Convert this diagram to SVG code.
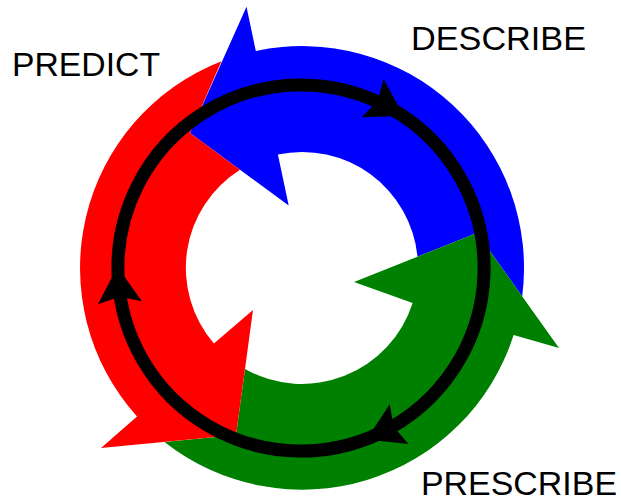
<svg xmlns="http://www.w3.org/2000/svg" width="621" height="501" viewBox="0 0 621 501">
  <style>
    .label { font-family: "Liberation Sans", Arial, sans-serif; font-size: 33px; fill: #000000; }
    .blue { fill: #0000ff; }
    .green { fill: #008000; }
    .red { fill: #ff0000; }
    .cycle { fill: none; stroke: #000000; stroke-width: 13; marker-end: url(#ah); }
  </style>
  <defs>
    <marker id="ah" markerUnits="userSpaceOnUse" markerWidth="40" markerHeight="50" refX="0" refY="0" orient="auto" overflow="visible" style="overflow:visible">
      <path d="M14,0 L-22,-22 L-16,0 L-22,22 Z" fill="#000000"/>
    </marker>
  </defs>
  <rect width="621" height="501" fill="#ffffff"/>

  <g id="arrow-describe">
    <path class="blue" d="M417.5,256.7 L477,233 L522.2,296.4 A222,222 0 0 0 255.8,50.9 L246.5,6.8 L190,133 L288.7,205.4 L277.9,154.5 A116,116 0 0 1 417.5,256.7 Z"/>
  </g>
  <g id="arrow-prescribe">
    <path class="green" d="M245,369 L236,435 L164.5,441.9 A222,222 0 0 0 513.6,335.1 L559,348 L477,233 L354,282 L412.6,302.9 A116,116 0 0 1 245,369 Z"/>
  </g>
  <g id="arrow-predict">
    <path class="red" d="M240,169.7 L190,133 L221.4,61.2 A222,222 0 0 0 137,416.5 L101,448 L236,435 L253,310 L213.9,343.5 A116,116 0 0 1 240,169.7 Z"/>
  </g>

  <g id="connectors">
    <path class="cycle" d="M391.7,109 A183,183 0 0 1 379.2,433.5"/>
    <path class="cycle" d="M379.2,433.5 A183,183 0 0 1 118.4,280.8"/>
    <path class="cycle" d="M118.4,280.8 A183,183 0 0 1 391.7,109"/>
  </g>

  <g id="label-predict">
    <text class="label" x="12" y="76" textLength="148" lengthAdjust="spacingAndGlyphs">PREDICT</text>
  </g>
  <g id="label-describe">
    <text class="label" x="411" y="50" textLength="175" lengthAdjust="spacingAndGlyphs">DESCRIBE</text>
  </g>
  <g id="label-prescribe">
    <text class="label" x="421" y="495" textLength="196" lengthAdjust="spacingAndGlyphs">PRESCRIBE</text>
  </g>
</svg>
